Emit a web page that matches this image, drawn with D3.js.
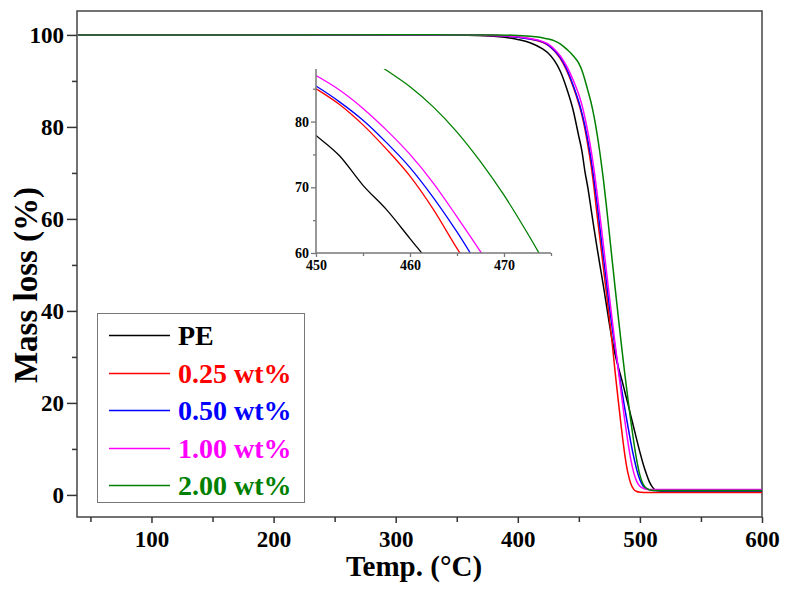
<!DOCTYPE html>
<html><head><meta charset="utf-8">
<script src="https://cdn.jsdelivr.net/npm/d3@7"></script>
<style>
body{margin:0;background:#fff;}
text{font-family:"Liberation Serif","Times New Roman",serif;font-weight:bold;}
</style></head>
<body><svg id="c" width="788" height="589"></svg>
<script>
const temps = [40,100,200,300,350,380,400,410,420,425,430,435,440,445,450,452.5,455,457.5,460,462.5,465,467.5,470,472.5,475,477.5,480,482.5,485,487.5,490,492.5,495,497.5,500,502.5,505,507.5,510,512.5,515,520,550,600];
const massPE   = [100.0,100.0,100.0,100.05,100.0,99.7,99.0,98.3,97.0,96.0, 94.4,92.0,88.4,84.0,77.9,74.8,70.3,66.6,62.2,57.8, 53.6,49.6,45.6,41.4,37.2,33.4,30.2,27.6,25.2,22.6, 20.0,17.3,14.6,11.9,9.3,6.9,4.8,3.0,1.8,1.1, 0.9,0.85,0.85,0.85];
const mass025  = [100.0,100.0,100.0,100.05,100.0,99.9,99.5,99.1,98.4,97.7, 96.5,94.8,92.3,89.0,85.0,82.6,79.5,75.8,71.7,66.6, 60.7,55.2,49.6,44.0,38.5,32.5,26.0,20.0,14.2,9.0, 5.0,2.5,1.2,0.75,0.6,0.55,0.5,0.5,0.5,0.5, 0.5,0.5,0.5,0.5];
const mass050  = [100.0,100.0,100.0,100.05,100.0,99.9,99.5,99.1,98.5,97.8, 96.6,95.0,92.6,89.3,85.4,83.0,80.2,76.8,73.0,68.4, 63.2,57.5,52.0,46.5,41.0,36.0,31.5,27.2,23.0,19.0, 15.2,11.5,8.2,5.4,3.3,2.0,1.4,1.15,1.0,0.95, 0.95,0.9,0.9,0.9];
const mass100  = [100.0,100.0,100.0,100.05,100.0,99.9,99.6,99.2,98.6,98.0, 96.9,95.4,93.2,90.4,87.0,84.8,82.0,78.7,75.0,70.6, 65.5,60.2,54.6,48.9,43.2,37.6,32.2,26.8,21.5,16.4, 11.8,7.8,4.8,2.9,1.9,1.45,1.25,1.2,1.2,1.2, 1.2,1.2,1.2,1.2];
const mass200  = [100.0,100.0,100.0,100.05,100.0,100.0,99.9,99.7,99.4,99.1, 98.7,98.0,96.9,95.6,93.8,92.3,90.2,87.8,85.3,82.2, 78.4,73.9,68.8,63.0,56.8,50.5,44.3,38.2,32.3,26.6, 21.3,16.2,11.5,7.4,4.3,2.4,1.5,1.15,1.0,0.95, 0.95,0.95,0.95,0.95];
const seriesNames = ["PE","0.25 wt%","0.50 wt%","1.00 wt%","2.00 wt%"];
const seriesColors = ["#000000","#ff0000","#0000ff","#ff00ff","#008000"];
const seriesData = [massPE, mass025, mass050, mass100, mass200];
const xTicks = [100,200,300,400,500,600];
const xMinor = [50,150,250,350,450,550];
const yTicks = [0,20,40,60,80,100];
const yMinor = [10,30,50,70,90];
const insetXTicks = [450,460,470];
const insetXMinor = [455,465,475];
const insetYTicks = [60,70,80];
const insetYMinor = [65,75,85];

const svg = d3.select("#c");
const L=77,R=762,T=11,B=517;
const x = d3.scaleLinear().domain([39,600]).range([L,R]);
const y = d3.scaleLinear().domain([-4.8,105.2]).range([B,T]);

svg.append("rect").attr("x",L).attr("y",T).attr("width",R-L).attr("height",B-T)
  .attr("fill","none").attr("stroke","#444").attr("stroke-width",1.5);

svg.append("clipPath").attr("id","cm").append("rect").attr("x",L).attr("y",T).attr("width",R-L).attr("height",B-T);

const line = d3.line().curve(d3.curveMonotoneX).x((d,i)=>x(temps[i])).y(d=>y(d));
const gm = svg.append("g").attr("clip-path","url(#cm)");
seriesData.forEach((s,k)=>{
  gm.append("path").attr("d",line(s)).attr("fill","none").attr("stroke",seriesColors[k]).attr("stroke-width",1.5);
});

const ax = svg.append("g").attr("transform",`translate(0,${B})`)
  .call(d3.axisBottom(x).tickValues(xTicks).tickSize(6).tickPadding(8).tickFormat(d3.format("d")));
const ax2 = svg.append("g").attr("transform",`translate(0,${B})`)
  .call(d3.axisBottom(x).tickValues(xMinor).tickSize(5).tickFormat(""));
const ay = svg.append("g").attr("transform",`translate(${L},0)`)
  .call(d3.axisLeft(y).tickValues(yTicks).tickSize(10).tickPadding(3).tickFormat(d3.format("d")));
const ay2 = svg.append("g").attr("transform",`translate(${L},0)`)
  .call(d3.axisLeft(y).tickValues(yMinor).tickSize(5).tickFormat(""));
[ax,ax2,ay,ay2].forEach(g=>{
  g.select(".domain").remove();
  g.selectAll(".tick line").attr("stroke","#333").attr("stroke-width",1.5);
});
ax.selectAll("text").attr("font-size",23).attr("fill","#000");
ay.selectAll("text").attr("font-size",23).attr("fill","#000").attr("dy","0.34em");

svg.append("text").attr("x",414).attr("y",576).attr("text-anchor","middle").attr("font-size",29).text("Temp. (°C)");
svg.append("text").attr("transform","translate(37,285) rotate(-90)").attr("text-anchor","middle").attr("font-size",33).text("Mass loss (%)");

// legend
const lg = svg.append("g");
lg.append("rect").attr("x",97.5).attr("y",313.5).attr("width",207).attr("height",189).attr("fill","#fff").attr("stroke","#777").attr("stroke-width",1);
const rowY = d3.scalePoint().domain(seriesNames).range([335,485]);
seriesNames.forEach((n,k)=>{
  const yy = Math.round(rowY(n))+0.5;
  lg.append("line").attr("x1",109).attr("x2",170).attr("y1",yy).attr("y2",yy).attr("stroke",seriesColors[k]).attr("stroke-width",1.3);
  lg.append("text").attr("x",178).attr("y",yy).attr("dy","0.35em").attr("font-size",28).attr("fill",seriesColors[k]).text(n);
});

// inset
const iL=316,iR=551,iT=69,iB=253;
const xi = d3.scaleLinear().domain([450,475]).range([iL,iR]);
const yi = d3.scaleLinear().domain([60,88]).range([iB,iT]);
svg.append("clipPath").attr("id","ci").append("rect").attr("x",iL).attr("y",iT).attr("width",iR-iL).attr("height",iB-iT);
const lineI = d3.line().curve(d3.curveMonotoneX).x((d,i)=>xi(temps[i])).y(d=>yi(d));
const gi = svg.append("g").attr("clip-path","url(#ci)");
seriesData.forEach((s,k)=>{
  gi.append("path").attr("d",lineI(s)).attr("fill","none").attr("stroke",seriesColors[k]).attr("stroke-width",1.3);
});
const ixa = svg.append("g").attr("transform",`translate(0,${iB})`)
  .call(d3.axisBottom(xi).tickValues(insetXTicks).tickSize(4).tickPadding(3).tickFormat(d3.format("d")));
const ixb = svg.append("g").attr("transform",`translate(0,${iB})`)
  .call(d3.axisBottom(xi).tickValues(insetXMinor).tickSize(3).tickFormat(""));
const iya = svg.append("g").attr("transform",`translate(${iL},0)`)
  .call(d3.axisLeft(yi).tickValues(insetYTicks).tickSize(5).tickPadding(2).tickFormat(d3.format("d")));
const iyb = svg.append("g").attr("transform",`translate(${iL},0)`)
  .call(d3.axisLeft(yi).tickValues(insetYMinor).tickSize(3).tickFormat(""));
[ixa,ixb,iya,iyb].forEach(g=>{
  g.select(".domain").remove();
  g.selectAll(".tick line").attr("stroke","#777").attr("stroke-width",1.3);
  g.selectAll("text").attr("font-size",14).attr("fill","#000");
});
svg.append("line").attr("x1",iL).attr("x2",iR).attr("y1",iB).attr("y2",iB).attr("stroke","#777").attr("stroke-width",1.5);
svg.append("line").attr("x1",iL).attr("x2",iL).attr("y1",iT).attr("y2",iB).attr("stroke","#777").attr("stroke-width",1.5);
</script></body></html>
